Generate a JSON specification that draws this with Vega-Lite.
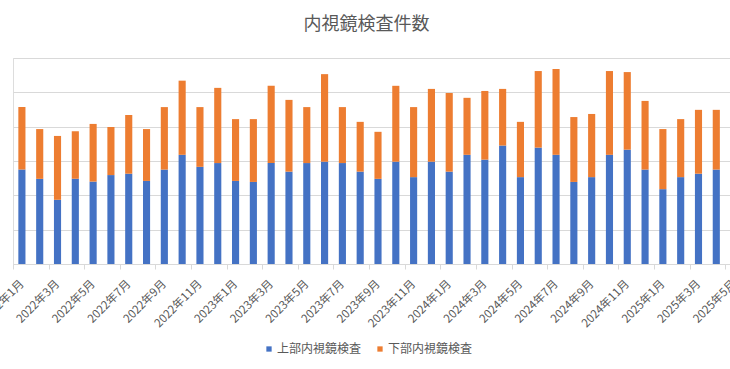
{
  "$schema": "https://vega.github.io/schema/vega-lite/v6.json",
  "width": 717,
  "height": 206,
  "autosize": {"type": "none"},
  "padding": {"left": 13, "top": 58, "right": 0, "bottom": 105},
  "background": "white",
  "title": {"text": "内視鏡検査件数", "fontSize": 18, "font": "Noto Sans CJK JP", "fontWeight": "normal", "color": "#595959", "anchor": "middle", "offset": 24, "dx": -5},
  "data": {"values": [
    {"month": "2022年1月", "上部内視鏡検査": 27.5, "下部内視鏡検査": 18.2},
    {"month": "2022年2月", "上部内視鏡検査": 24.8, "下部内視鏡検査": 14.5},
    {"month": "2022年3月", "上部内視鏡検査": 18.7, "下部内視鏡検査": 18.6},
    {"month": "2022年4月", "上部内視鏡検査": 24.8, "下部内視鏡検査": 13.9},
    {"month": "2022年5月", "上部内視鏡検査": 24.0, "下部内視鏡検査": 16.8},
    {"month": "2022年6月", "上部内視鏡検査": 25.9, "下部内視鏡検査": 14.0},
    {"month": "2022年7月", "上部内視鏡検査": 26.3, "下部内視鏡検査": 17.1},
    {"month": "2022年8月", "上部内視鏡検査": 24.2, "下部内視鏡検査": 15.1},
    {"month": "2022年9月", "上部内視鏡検査": 27.5, "下部内視鏡検査": 18.2},
    {"month": "2022年10月", "上部内視鏡検査": 31.8, "下部内視鏡検査": 21.6},
    {"month": "2022年11月", "上部内視鏡検査": 28.3, "下部内視鏡検査": 17.4},
    {"month": "2022年12月", "上部内視鏡検査": 29.4, "下部内視鏡検査": 21.9},
    {"month": "2023年1月", "上部内視鏡検査": 24.2, "下部内視鏡検査": 18.0},
    {"month": "2023年2月", "上部内視鏡検査": 23.9, "下部内視鏡検査": 18.3},
    {"month": "2023年3月", "上部内視鏡検査": 29.4, "下部内視鏡検査": 22.5},
    {"month": "2023年4月", "上部内視鏡検査": 26.9, "下部内視鏡検査": 20.9},
    {"month": "2023年5月", "上部内視鏡検査": 29.4, "下部内視鏡検査": 16.3},
    {"month": "2023年6月", "上部内視鏡検査": 29.8, "下部内視鏡検査": 25.5},
    {"month": "2023年7月", "上部内視鏡検査": 29.4, "下部内視鏡検査": 16.3},
    {"month": "2023年8月", "上部内視鏡検査": 26.9, "下部内視鏡検査": 14.5},
    {"month": "2023年9月", "上部内視鏡検査": 24.8, "下部内視鏡検査": 13.7},
    {"month": "2023年10月", "上部内視鏡検査": 29.8, "下部内視鏡検査": 22.1},
    {"month": "2023年11月", "上部内視鏡検査": 25.3, "下部内視鏡検査": 20.4},
    {"month": "2023年12月", "上部内視鏡検査": 29.8, "下部内視鏡検査": 21.2},
    {"month": "2024年1月", "上部内視鏡検査": 26.9, "下部内視鏡検査": 22.9},
    {"month": "2024年2月", "上部内視鏡検査": 31.8, "下部内視鏡検査": 16.6},
    {"month": "2024年3月", "上部内視鏡検査": 30.4, "下部内視鏡検査": 20.0},
    {"month": "2024年4月", "上部内視鏡検査": 34.5, "下部内視鏡検査": 16.5},
    {"month": "2024年5月", "上部内視鏡検査": 25.3, "下部内視鏡検査": 16.1},
    {"month": "2024年6月", "上部内視鏡検査": 33.9, "下部内視鏡検査": 22.3},
    {"month": "2024年7月", "上部内視鏡検査": 31.8, "下部内視鏡検査": 25.0},
    {"month": "2024年8月", "上部内視鏡検査": 23.9, "下部内視鏡検査": 18.9},
    {"month": "2024年9月", "上部内視鏡検査": 25.3, "下部内視鏡検査": 18.4},
    {"month": "2024年10月", "上部内視鏡検査": 31.8, "下部内視鏡検査": 24.4},
    {"month": "2024年11月", "上部内視鏡検査": 33.3, "下部内視鏡検査": 22.6},
    {"month": "2024年12月", "上部内視鏡検査": 27.5, "下部内視鏡検査": 20.0},
    {"month": "2025年1月", "上部内視鏡検査": 21.8, "下部内視鏡検査": 17.5},
    {"month": "2025年2月", "上部内視鏡検査": 25.3, "下部内視鏡検査": 16.9},
    {"month": "2025年3月", "上部内視鏡検査": 26.3, "下部内視鏡検査": 18.6},
    {"month": "2025年4月", "上部内視鏡検査": 27.5, "下部内視鏡検査": 17.4},
    {"month": "2025年5月", "上部内視鏡検査": 27.0, "下部内視鏡検査": 18.0}
  ]},
  "transform": [{"fold": ["上部内視鏡検査", "下部内視鏡検査"], "as": ["kind", "n"]}],
  "mark": {"type": "bar"},
  "encoding": {
    "x": {
      "field": "month", "type": "ordinal", "sort": null,
      "scale": {"range": [0, 730], "paddingInner": 0.6, "paddingOuter": 0.3},
      "axis": {
        "title": null,
        "values": ["2022年1月","2022年3月","2022年5月","2022年7月","2022年9月","2022年11月","2023年1月","2023年3月","2023年5月","2023年7月","2023年9月","2023年11月","2024年1月","2024年3月","2024年5月","2024年7月","2024年9月","2024年11月","2025年1月","2025年3月","2025年5月"],
        "labelAngle": -45, "labelAlign": "right", "labelBaseline": "middle",
        "labelPadding": 13, "labelFontSize": 11.5, "labelFont": "Noto Sans CJK JP", "labelColor": "#595959",
        "labelOverlap": false, "labelBound": false, "labelFlush": false,
        "tickSize": 5, "tickColor": "#D9D9D9", "tickOffset": -8.9, "labelOffset": 8.9,
        "domainColor": "#D9D9D9", "grid": false
      }
    },
    "y": {
      "field": "n", "type": "quantitative", "stack": "zero",
      "scale": {"domain": [0, 60], "nice": false},
      "axis": {"title": null, "values": [0, 10, 20, 30, 40, 50, 60], "labels": false, "ticks": false, "domain": false, "grid": true, "gridColor": "#D9D9D9"}
    },
    "color": {
      "field": "kind", "type": "nominal",
      "scale": {"domain": ["上部内視鏡検査", "下部内視鏡検査"], "range": ["#4472C4", "#ED7D31"]},
      "legend": {
        "title": null, "orient": "none", "legendX": 250, "legendY": 285, "direction": "horizontal",
        "symbolType": "square", "symbolSize": 28, "symbolStrokeWidth": 0,
        "labelFontSize": 12, "labelFont": "Noto Sans CJK JP", "labelColor": "#595959",
        "labelOffset": 2, "columnPadding": 12
      }
    },
    "order": {"field": "kind", "sort": "ascending"}
  }
}
